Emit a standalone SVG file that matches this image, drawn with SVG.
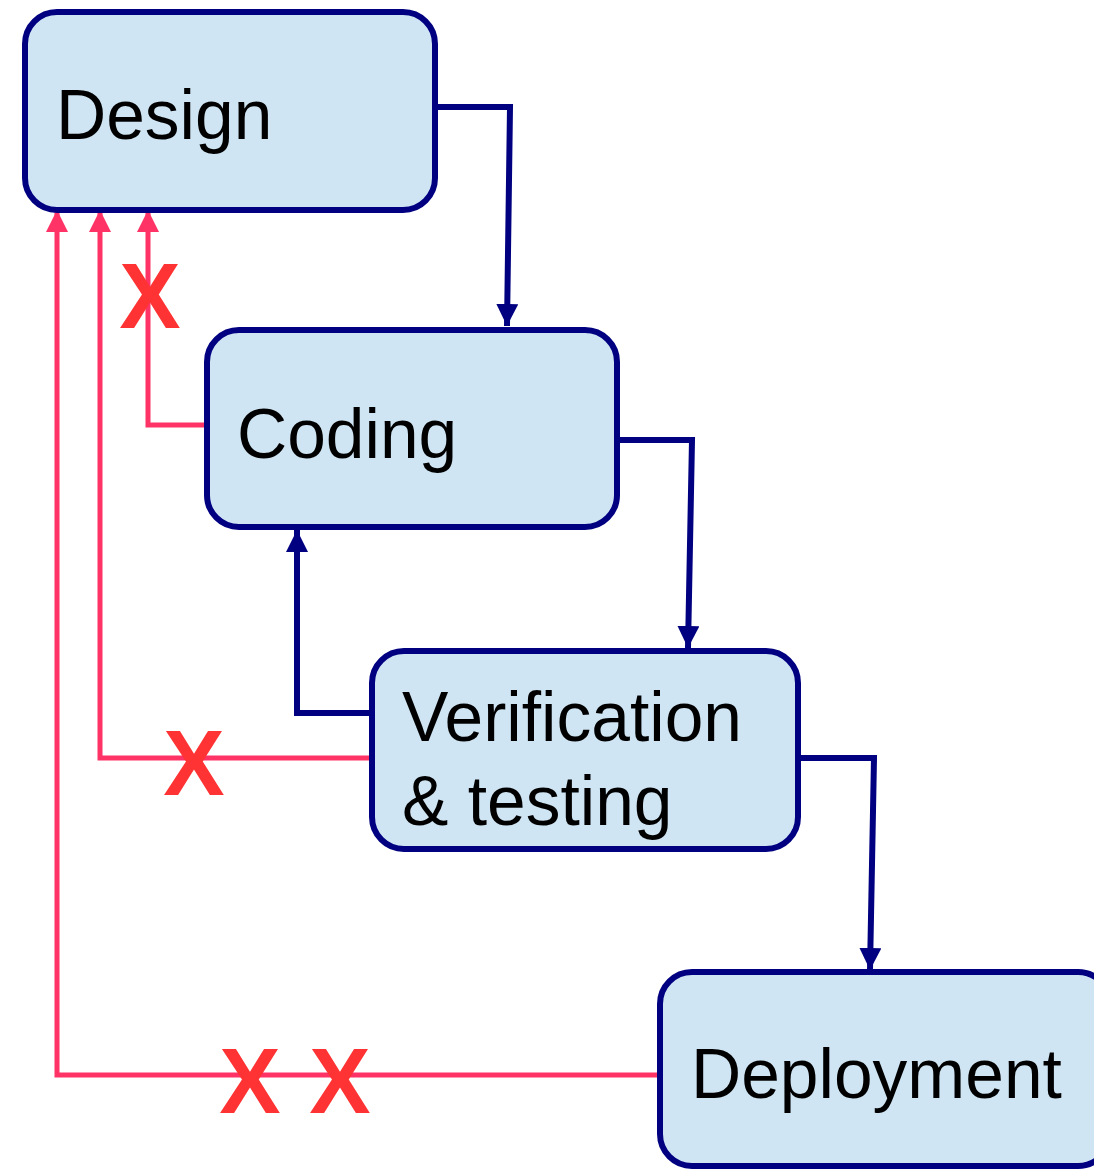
<svg xmlns="http://www.w3.org/2000/svg" width="1094" height="1169" viewBox="0 0 1094 1169">
<defs>
<marker id="pinkArrow" viewBox="0 0 10 10" refX="10" refY="5" markerWidth="22" markerHeight="22" orient="auto" markerUnits="userSpaceOnUse">
<path d="M0,0 L10,5 L0,10 z" fill="#FF3366"/>
</marker>
<marker id="navyHead" viewBox="0 0 10 10" refX="10" refY="5" markerWidth="22" markerHeight="22" orient="auto" markerUnits="userSpaceOnUse">
<path d="M0,0 L10,5 L0,10 z" fill="#000080"/>
</marker>
</defs>
<style>
.box{fill:#CFE5F3;stroke:#000080;stroke-width:6}
.lbl{font-family:"Liberation Sans",Arial,sans-serif;font-size:69.5px;fill:#000}
.navy{fill:none;stroke:#000080;stroke-width:6}
.pink{fill:none;stroke:#FF3366;stroke-width:5}
.x{font-family:"Liberation Sans",Arial,sans-serif;font-size:92px;font-weight:bold;fill:#FF3333;text-anchor:middle}
</style>
<rect width="1094" height="1169" fill="#fff"/>
<g id="connectors">
<path class="navy" d="M435,107 L510,107 L507,326" marker-end="url(#navyHead)"/>
<path class="navy" d="M617,440 L692,440 L688,648" marker-end="url(#navyHead)"/>
<path class="navy" d="M798,758 L874,758 L870,970" marker-end="url(#navyHead)"/>
<path class="navy" d="M372,713 L297,713 L297,530" marker-end="url(#navyHead)"/>
<path class="pink" d="M207,425 L148,425 L148,210" marker-end="url(#pinkArrow)"/>
<path class="pink" d="M372,758 L100,758 L100,210" marker-end="url(#pinkArrow)"/>
<path class="pink" d="M660,1075 L57,1075 L57,210" marker-end="url(#pinkArrow)"/>
<text class="x" x="150" y="328">X</text>
<text class="x" x="194" y="795">X</text>
<text class="x" x="250" y="1113">X</text>
<text class="x" x="340" y="1113">X</text>
</g>
<g id="design">
<rect class="box" x="25" y="12" width="410" height="198" rx="32"/>
<text class="lbl" x="56" y="139">Design</text>
</g>
<g id="coding">
<rect class="box" x="207" y="330" width="410" height="197" rx="32"/>
<text class="lbl" x="237" y="458">Coding</text>
</g>
<g id="verification">
<rect class="box" x="372" y="651" width="426" height="198" rx="32"/>
<text class="lbl" x="402" y="741">Verification</text>
<text class="lbl" x="402" y="825">&amp; testing</text>
</g>
<g id="deployment">
<rect class="box" x="660" y="972" width="450" height="194" rx="32"/>
<text class="lbl" x="691" y="1098">Deployment</text>
</g>
</svg>
